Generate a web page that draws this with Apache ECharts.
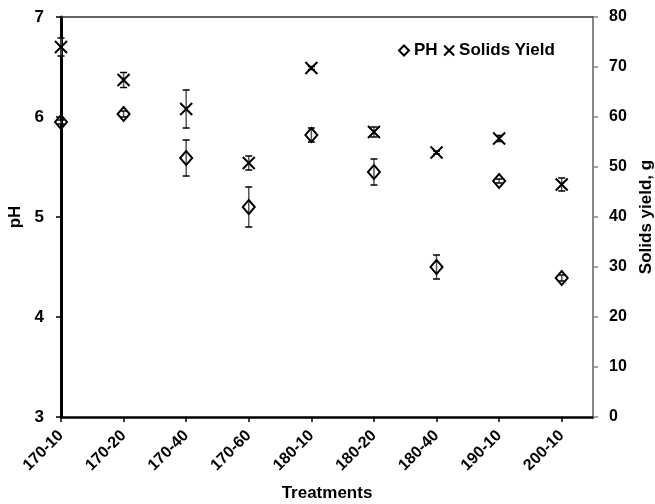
<!DOCTYPE html>
<html>
<head>
<meta charset="utf-8">
<script src="https://cdn.jsdelivr.net/npm/echarts@6/dist/echarts.min.js"></script>
<style>
html,body{margin:0;padding:0;background:#fff;}
#chart{width:655px;height:504px;}
</style>
</head>
<body>
<div id="chart"></div>
<script>
const categories = ['170-10','170-20','170-40','170-60','180-10','180-20','180-40','190-10','200-10'];
const phValues = [5.95, 6.03, 5.59, 5.10, 5.82, 5.45, 4.50, 5.36, 4.39];
const phErrors = [0.02, 0.03, 0.18, 0.20, 0.07, 0.13, 0.12, 0.02, 0.03];
const yieldValues = [74.0, 67.4, 61.6, 50.8, 69.8, 57.0, 52.9, 55.7, 46.5];
const yieldErrors = [1.8, 1.5, 3.8, 1.4, 0.3, 1.0, 0.3, 0.6, 1.3];
const leftTicks = [3, 4, 5, 6, 7];
const rightTicks = [0, 10, 20, 30, 40, 50, 60, 70, 80];

const FONT = 'Liberation Sans, Arial, sans-serif';
const idx = categories.map((c, i) => i);
const crossPath = 'path://M0,0L10,10M10,0L0,10';

function errorSeries(values, errors, yAxisIndex) {
  return {
    type: 'custom',
    yAxisIndex: yAxisIndex,
    silent: true,
    z: 1,
    data: values.map((v, i) => [i, v - errors[i], v + errors[i]]),
    renderItem: function (params, api) {
      const lo = api.coord([api.value(0), api.value(1)]);
      const hi = api.coord([api.value(0), api.value(2)]);
      const w = 3.5;
      return {
        type: 'group',
        children: [
          {type: 'line', shape: {x1: lo[0], y1: lo[1], x2: hi[0], y2: hi[1]}, style: {stroke: '#555', lineWidth: 1.5}},
          {type: 'line', shape: {x1: lo[0] - w, y1: lo[1], x2: lo[0] + w, y2: lo[1]}, style: {stroke: '#000', lineWidth: 1.5}},
          {type: 'line', shape: {x1: hi[0] - w, y1: hi[1], x2: hi[0] + w, y2: hi[1]}, style: {stroke: '#000', lineWidth: 1.5}}
        ]
      };
    }
  };
}

const chart = echarts.init(document.getElementById('chart'));
chart.setOption({
  animation: false,
  backgroundColor: '#fff',
  textStyle: {fontFamily: FONT},
  grid: {left: 61, right: 62, top: 17, bottom: 87, containLabel: false, outerBoundsMode: 'none'},
  legend: {
    left: 393, top: 37,
    itemWidth: 10, itemHeight: 10, itemGap: 4,
    textStyle: {fontFamily: FONT, fontWeight: 'bold', fontSize: 17, color: '#000'},
    data: [
      {name: 'PH', icon: 'diamond', itemStyle: {color: '#fff', borderColor: '#000', borderWidth: 2}},
      {name: 'Solids Yield', icon: crossPath, itemStyle: {color: 'none', borderColor: '#000', borderWidth: 2}}
    ]
  },
  xAxis: [{
    type: 'value', min: 0, max: 8.5, interval: 1,
    name: 'Treatments', nameLocation: 'middle', nameGap: 68,
    nameTextStyle: {fontFamily: FONT, fontWeight: 'bold', fontSize: 17, color: '#000'},
    splitLine: {show: false},
    axisLine: {lineStyle: {color: '#000', width: 2.5}},
    axisTick: {customValues: idx, length: 5, lineStyle: {color: '#000', width: 1.5}},
    axisLabel: {
      customValues: idx, rotate: 45, margin: 16,
      fontFamily: FONT, fontWeight: 'bold', fontSize: 16, color: '#000',
      formatter: v => categories[v] || ''
    }
  }, {
    type: 'value', min: 0, max: 8.5, position: 'top',
    axisLine: {show: true, onZero: false, lineStyle: {color: '#333', width: 1.5}},
    axisTick: {show: false}, axisLabel: {show: false}, splitLine: {show: false}
  }],
  yAxis: [{
    type: 'value', min: 3, max: 7, interval: 1, position: 'left',
    name: 'pH', nameLocation: 'middle', nameGap: 28,
    nameTextStyle: {fontFamily: FONT, fontWeight: 'bold', fontSize: 17, color: '#000'},
    splitLine: {show: false},
    axisLine: {show: true, onZero: false, lineStyle: {color: '#000', width: 3}},
    axisTick: {show: true, customValues: leftTicks, length: 5, lineStyle: {color: '#000', width: 1.5}},
    axisLabel: {customValues: leftTicks, margin: 17, fontFamily: FONT, fontWeight: 'bold', fontSize: 17, color: '#000'}
  }, {
    type: 'value', min: 0, max: 80, interval: 10, position: 'right',
    name: 'Solids yield, g', nameLocation: 'middle', nameGap: 45,
    nameTextStyle: {fontFamily: FONT, fontWeight: 'bold', fontSize: 17, color: '#000'},
    splitLine: {show: false},
    axisLine: {show: true, onZero: false, lineStyle: {color: '#888', width: 2}},
    axisTick: {show: true, customValues: rightTicks, length: 5, lineStyle: {color: '#888', width: 1.5}},
    axisLabel: {customValues: rightTicks, margin: 16, fontFamily: FONT, fontWeight: 'bold', fontSize: 16, color: '#000'}
  }],
  series: [
    errorSeries(phValues, phErrors, 0),
    errorSeries(yieldValues, yieldErrors, 1),
    {
      name: 'PH', type: 'scatter', yAxisIndex: 0, z: 3,
      symbol: 'diamond', symbolSize: [12, 14],
      itemStyle: {color: 'none', borderColor: '#000', borderWidth: 2, opacity: 1},
      data: phValues.map((v, i) => [i, v])
    },
    {
      name: 'Solids Yield', type: 'scatter', yAxisIndex: 1, z: 3,
      symbol: crossPath, symbolSize: [12, 12],
      itemStyle: {color: 'none', borderColor: '#000', borderWidth: 2, opacity: 1},
      data: yieldValues.map((v, i) => [i, v])
    }
  ]
});
</script>
</body>
</html>
